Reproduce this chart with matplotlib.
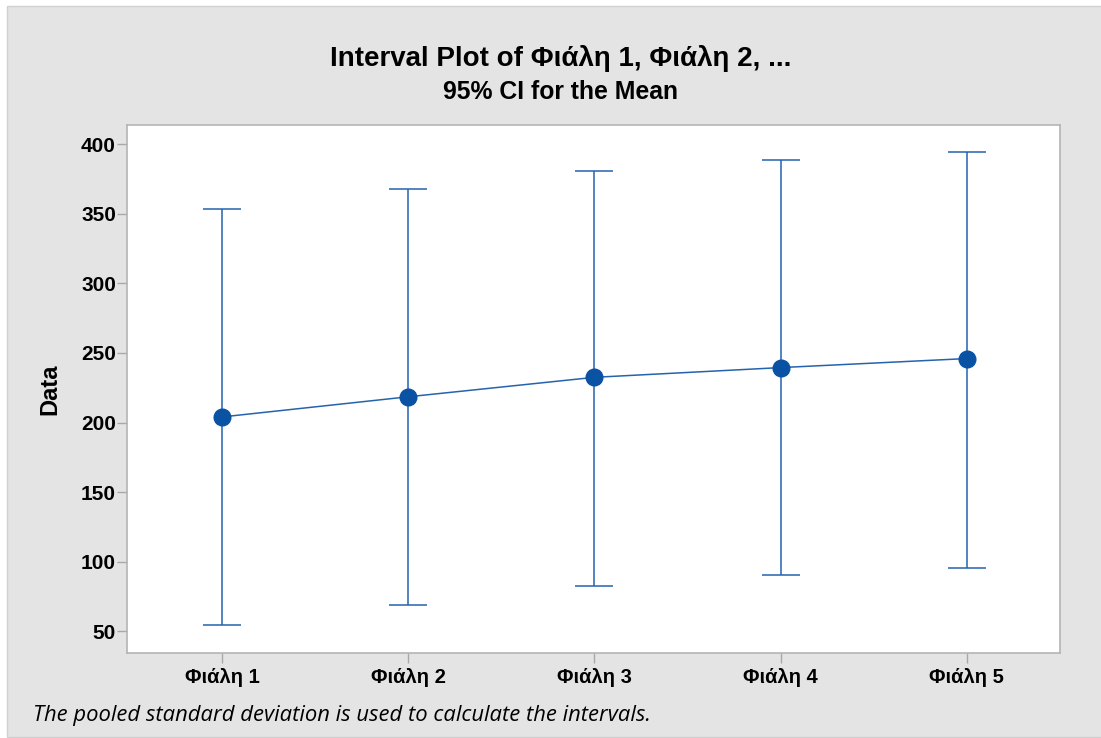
import matplotlib.pyplot as plt
from matplotlib.patches import Rectangle

groups = ['Φιάλη 1', 'Φιάλη 2', 'Φιάλη 3', 'Φιάλη 4', 'Φιάλη 5']
means = [204.0, 218.5, 232.5, 239.5, 246.0]
lower = [54.5, 69.0, 82.5, 90.0, 95.5]
upper = [353.5, 368.0, 381.0, 389.0, 394.5]
yticks = [50, 100, 150, 200, 250, 300, 350, 400]

plt.rcParams['font.family'] = ['Liberation Sans', 'DejaVu Sans']

fig = plt.figure(figsize=(11.01, 7.38), dpi=100)
fig.patch.set_facecolor('white')
fig.patches.append(Rectangle((7 / 1101, 0.002), 1, 1 - 6 / 738 - 0.002,
                             transform=fig.transFigure, facecolor='#e4e4e4',
                             edgecolor='#d0d0d0', linewidth=1, zorder=-10))

ax = fig.add_axes([127 / 1101, 1 - 653 / 738, 933 / 1101, 528 / 738])
ax.set_facecolor('white')

x = list(range(1, len(groups) + 1))
err_lo = [m - l for m, l in zip(means, lower)]
err_hi = [u - m for m, u in zip(means, upper)]
ax.errorbar(x, means, yerr=[err_lo, err_hi], fmt='none', ecolor='#2563ad',
            elinewidth=1.1, capsize=13.5, capthick=1.1, zorder=2)
ax.plot(x, means, color='#2563ad', linewidth=1.1, zorder=3)
ax.plot(x, means, 'o', color='#0a52a3', markersize=12, zorder=4)

ax.set_xlim(0.49, 5.5)
ax.set_ylim(34.2, 414)
ax.set_xticks(x)
ax.set_xticklabels(groups, fontsize=14.5, fontweight='bold')
ax.set_yticks(yticks)
ax.set_yticklabels([str(v) for v in yticks], fontsize=15, fontweight='bold')
ax.set_ylabel('Data', fontsize=17, fontweight='bold')
ax.yaxis.set_label_coords(-0.07, 0.5)

for s in ax.spines.values():
    s.set_color('#b4b4b4')
    s.set_linewidth(1.2)
ax.tick_params(axis='y', color='#a8a8a8', length=7, width=1, pad=1)
ax.tick_params(axis='x', color='#a8a8a8', length=7, width=1, pad=4)

fig.text(0.509, 1 - 59 / 738, 'Interval Plot of Φιάλη 1, Φιάλη 2, ...',
         ha='center', va='center', fontsize=20, fontweight='bold')
fig.text(0.509, 1 - 92 / 738, '95% CI for the Mean',
         ha='center', va='center', fontsize=17.8, fontweight='bold')
fig.text(33 / 1101, 1 - 716 / 738,
         'The pooled standard deviation is used to calculate the intervals.',
         ha='left', va='center', fontsize=15.8, style='italic',
         family=['Open Sans', 'DejaVu Sans'])

fig.savefig('out.png', dpi=100)
